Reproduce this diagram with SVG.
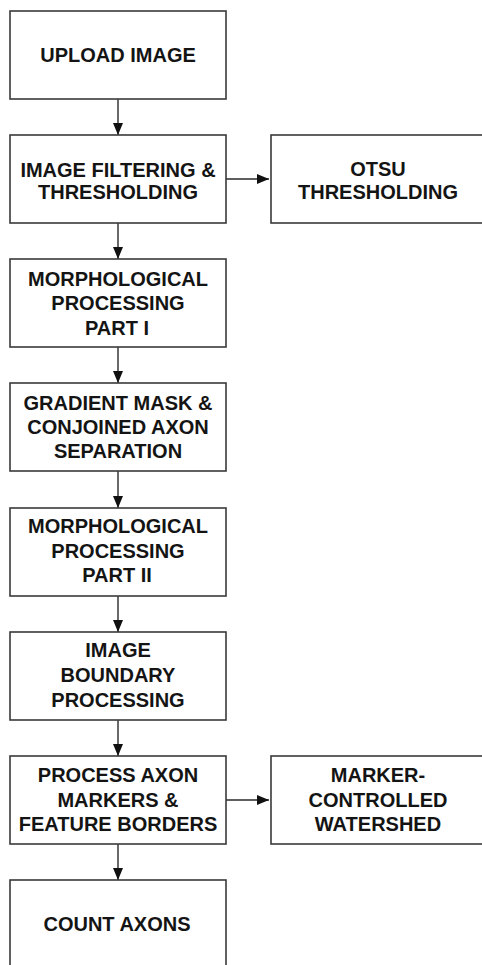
<svg xmlns="http://www.w3.org/2000/svg" width="482" height="965" viewBox="0 0 482 965">
<style>
.box{fill:#fff;stroke:#3a3a3a;stroke-width:1.6}
.t{font-family:"Liberation Sans",Arial,sans-serif;font-weight:bold;font-size:20px;fill:#141414;text-anchor:middle}
.c{stroke:#2a2a2a;stroke-width:1.4;fill:none}
</style>
<defs>
<marker id="ah" markerUnits="userSpaceOnUse" markerWidth="12" markerHeight="12" viewBox="0 0 12 12" refX="12" refY="6" orient="auto">
<path d="M0,1 L12,6 L0,11 Z" fill="#111"/>
</marker>
</defs>
<rect width="482" height="965" fill="#fff"/>
<g id="connectors">
<line class="c" x1="118" y1="99" x2="118" y2="135" marker-end="url(#ah)"/>
<line class="c" x1="118" y1="223" x2="118" y2="259" marker-end="url(#ah)"/>
<line class="c" x1="118" y1="347" x2="118" y2="383" marker-end="url(#ah)"/>
<line class="c" x1="118" y1="471" x2="118" y2="508" marker-end="url(#ah)"/>
<line class="c" x1="118" y1="596" x2="118" y2="632" marker-end="url(#ah)"/>
<line class="c" x1="118" y1="720" x2="118" y2="756" marker-end="url(#ah)"/>
<line class="c" x1="118" y1="844" x2="118" y2="880" marker-end="url(#ah)"/>
<line class="c" x1="226" y1="179" x2="269" y2="179" marker-end="url(#ah)"/>
<line class="c" x1="226" y1="800" x2="269" y2="800" marker-end="url(#ah)"/>
</g>
<g id="upload">
<rect class="box" x="10" y="11" width="216" height="88"/>
<text class="t" x="118" y="62">UPLOAD IMAGE</text>
</g>
<g id="filtering">
<rect class="box" x="10" y="135" width="216" height="88"/>
<text class="t" x="118" y="177">IMAGE FILTERING &amp;</text>
<text class="t" x="118" y="199">THRESHOLDING</text>
</g>
<g id="otsu">
<rect class="box" x="271" y="135" width="216" height="88"/>
<text class="t" x="378" y="176">OTSU</text>
<text class="t" x="378" y="199">THRESHOLDING</text>
</g>
<g id="morph1">
<rect class="box" x="10" y="259" width="216" height="88"/>
<text class="t" x="118" y="286">MORPHOLOGICAL</text>
<text class="t" x="118" y="310">PROCESSING</text>
<text class="t" x="117" y="335">PART I</text>
</g>
<g id="gradient">
<rect class="box" x="10" y="383" width="216" height="88"/>
<text class="t" x="118" y="410">GRADIENT MASK &amp;</text>
<text class="t" x="118" y="434">CONJOINED AXON</text>
<text class="t" x="118" y="458">SEPARATION</text>
</g>
<g id="morph2">
<rect class="box" x="10" y="508" width="216" height="88"/>
<text class="t" x="118" y="533">MORPHOLOGICAL</text>
<text class="t" x="118" y="558">PROCESSING</text>
<text class="t" x="117" y="582">PART II</text>
</g>
<g id="boundary">
<rect class="box" x="10" y="632" width="216" height="88"/>
<text class="t" x="118" y="657">IMAGE</text>
<text class="t" x="118" y="682">BOUNDARY</text>
<text class="t" x="118" y="707">PROCESSING</text>
</g>
<g id="markers">
<rect class="box" x="10" y="756" width="216" height="88"/>
<text class="t" x="118" y="782">PROCESS AXON</text>
<text class="t" x="118" y="807">MARKERS &amp;</text>
<text class="t" x="118" y="831">FEATURE BORDERS</text>
</g>
<g id="watershed">
<rect class="box" x="271" y="756" width="216" height="88"/>
<text class="t" x="378" y="782">MARKER-</text>
<text class="t" x="378" y="807">CONTROLLED</text>
<text class="t" x="378" y="831">WATERSHED</text>
</g>
<g id="count">
<rect class="box" x="10" y="880" width="216" height="88"/>
<text class="t" x="117" y="931">COUNT AXONS</text>
</g>
</svg>
